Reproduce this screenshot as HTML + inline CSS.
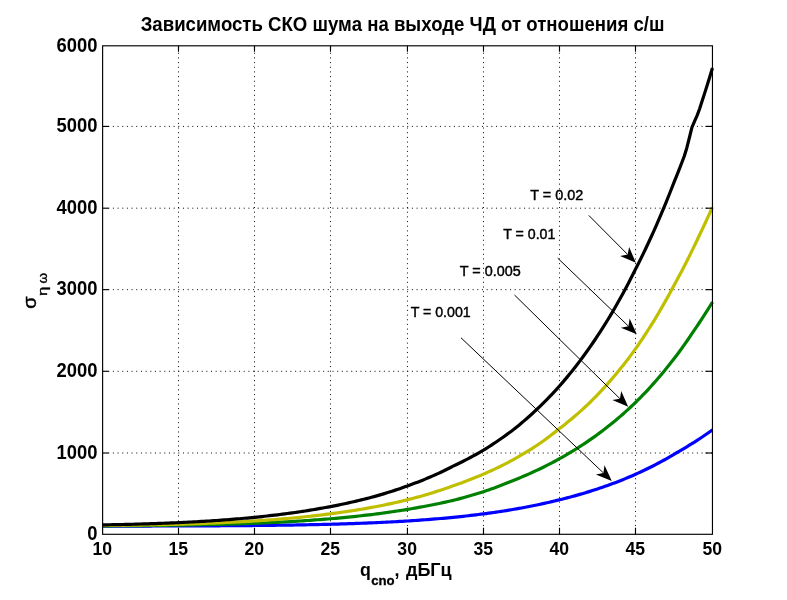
<!DOCTYPE html>
<html><head><meta charset="utf-8"><title>chart</title>
<style>
html,body{margin:0;padding:0;background:#fff;}
body{width:787px;height:600px;overflow:hidden;}
svg{display:block;will-change:transform;}
text{font-family:"Liberation Sans",sans-serif;fill:#000;}
</style></head><body>
<svg width="787" height="600" viewBox="0 0 787 600">
<rect x="0" y="0" width="787" height="600" fill="#ffffff"/>
<g stroke="#111" stroke-width="1" fill="none">
<line x1="178.49" y1="526.02" x2="178.49" y2="45.8" stroke-dasharray="1.05 3.626"/>
<line x1="254.49" y1="526.02" x2="254.49" y2="45.8" stroke-dasharray="1.05 3.626"/>
<line x1="330.49" y1="526.02" x2="330.49" y2="45.8" stroke-dasharray="1.05 3.626"/>
<line x1="407.44" y1="526.02" x2="407.44" y2="45.8" stroke-dasharray="1.05 3.626"/>
<line x1="483.49" y1="526.02" x2="483.49" y2="45.8" stroke-dasharray="1.05 3.626"/>
<line x1="559.49" y1="526.02" x2="559.49" y2="45.8" stroke-dasharray="1.05 3.626"/>
<line x1="635.49" y1="526.02" x2="635.49" y2="45.8" stroke-dasharray="1.05 3.626"/>
<line x1="112.88" y1="453.00" x2="712.46" y2="453.00" stroke-dasharray="1.05 3.622"/>
<line x1="112.88" y1="371.30" x2="712.46" y2="371.30" stroke-dasharray="1.05 3.622"/>
<line x1="112.88" y1="289.65" x2="712.46" y2="289.65" stroke-dasharray="1.05 3.622"/>
<line x1="112.88" y1="208.20" x2="712.46" y2="208.20" stroke-dasharray="1.05 3.622"/>
<line x1="112.88" y1="126.40" x2="712.46" y2="126.40" stroke-dasharray="1.05 3.622"/>
</g>
<g fill="none" stroke-width="3.2" stroke-linejoin="round" stroke-linecap="butt">
<polyline stroke="#0000ff" points="102.62,526.10 105.15,526.10 107.68,526.10 110.21,526.09 112.74,526.09 115.27,526.09 117.79,526.08 120.32,526.08 122.85,526.08 125.38,526.07 127.91,526.07 130.44,526.07 132.97,526.06 135.50,526.06 138.03,526.05 140.56,526.05 143.08,526.04 145.61,526.04 148.14,526.03 150.67,526.03 153.20,526.02 155.73,526.02 158.26,526.01 160.79,526.01 163.32,526.00 165.85,525.99 168.37,525.99 170.90,525.98 173.43,525.97 175.96,525.96 178.49,525.96 181.02,525.95 183.56,525.94 186.09,525.93 188.62,525.92 191.16,525.91 193.69,525.90 196.22,525.89 198.76,525.88 201.29,525.87 203.82,525.86 206.36,525.85 208.89,525.83 211.42,525.82 213.96,525.81 216.49,525.79 219.02,525.78 221.56,525.77 224.09,525.75 226.62,525.73 229.16,525.72 231.69,525.70 234.22,525.68 236.76,525.66 239.29,525.64 241.82,525.62 244.36,525.60 246.89,525.58 249.42,525.56 251.96,525.54 254.49,525.51 257.02,525.49 259.56,525.46 262.09,525.44 264.62,525.41 267.16,525.38 269.69,525.35 272.22,525.32 274.76,525.29 277.29,525.26 279.82,525.22 282.36,525.19 284.89,525.15 287.42,525.11 289.96,525.08 292.49,525.03 295.02,524.99 297.56,524.95 300.09,524.91 302.62,524.86 305.16,524.81 307.69,524.76 310.22,524.71 312.76,524.66 315.29,524.61 317.82,524.55 320.36,524.49 322.89,524.43 325.42,524.37 327.96,524.31 330.49,524.24 333.05,524.17 335.62,524.10 338.19,524.03 340.75,523.95 343.32,523.88 345.88,523.80 348.45,523.72 351.01,523.63 353.57,523.54 356.14,523.45 358.70,523.36 361.27,523.27 363.84,523.17 366.40,523.07 368.97,522.96 371.53,522.86 374.09,522.74 376.66,522.63 379.23,522.51 381.79,522.39 384.36,522.27 386.92,522.14 389.48,522.01 392.05,521.88 394.62,521.74 397.18,521.60 399.75,521.45 402.31,521.30 404.88,521.15 407.44,520.99 409.98,520.83 412.51,520.66 415.05,520.49 417.58,520.32 420.12,520.14 422.65,519.95 425.19,519.76 427.72,519.57 430.25,519.37 432.79,519.16 435.32,518.96 437.86,518.74 440.40,518.52 442.93,518.30 445.47,518.07 448.00,517.83 450.53,517.59 453.07,517.34 455.61,517.09 458.14,516.83 460.68,516.56 463.21,516.29 465.74,516.01 468.28,515.73 470.82,515.43 473.35,515.14 475.88,514.83 478.42,514.52 480.95,514.20 483.49,513.87 486.02,513.54 488.56,513.19 491.09,512.84 493.62,512.48 496.16,512.11 498.69,511.73 501.22,511.35 503.76,510.96 506.29,510.55 508.82,510.14 511.36,509.72 513.89,509.29 516.42,508.86 518.96,508.41 521.49,507.95 524.02,507.48 526.56,507.01 529.09,506.52 531.62,506.02 534.16,505.51 536.69,505.00 539.22,504.47 541.76,503.92 544.29,503.37 546.82,502.81 549.36,502.23 551.89,501.64 554.42,501.04 556.96,500.43 559.49,499.81 562.02,499.18 564.56,498.54 567.09,497.88 569.62,497.22 572.16,496.54 574.69,495.84 577.22,495.13 579.76,494.41 582.29,493.67 584.82,492.92 587.36,492.15 589.89,491.37 592.42,490.57 594.96,489.76 597.49,488.93 600.02,488.08 602.56,487.22 605.09,486.34 607.62,485.44 610.16,484.53 612.69,483.59 615.22,482.64 617.76,481.67 620.29,480.68 622.82,479.67 625.36,478.64 627.89,477.59 630.42,476.52 632.96,475.43 635.49,474.31 638.06,473.15 640.62,471.97 643.19,470.77 645.75,469.54 648.32,468.29 650.88,467.01 653.45,465.71 656.02,464.38 658.58,463.02 661.15,461.64 663.71,460.23 666.28,458.79 668.84,457.32 671.41,455.82 673.98,454.30 676.54,452.76 679.11,451.31 681.67,449.83 684.24,448.33 686.80,446.80 689.37,445.24 691.93,443.65 694.50,442.04 697.07,440.40 699.63,438.73 702.20,437.03 704.76,435.29 707.33,433.53 709.89,431.74 712.46,429.91"/>
<polyline stroke="#008000" points="102.62,525.84 105.15,525.82 107.68,525.81 110.21,525.80 112.74,525.78 115.27,525.77 117.79,525.75 120.32,525.73 122.85,525.72 125.38,525.70 127.91,525.68 130.44,525.66 132.97,525.65 135.50,525.63 138.03,525.61 140.56,525.58 143.08,525.56 145.61,525.54 148.14,525.52 150.67,525.49 153.20,525.46 155.73,525.44 158.26,525.41 160.79,525.38 163.32,525.35 165.85,525.32 168.37,525.29 170.90,525.26 173.43,525.22 175.96,525.19 178.49,525.15 181.02,525.12 183.56,525.08 186.09,525.04 188.62,525.00 191.16,524.95 193.69,524.91 196.22,524.86 198.76,524.82 201.29,524.77 203.82,524.72 206.36,524.66 208.89,524.61 211.42,524.55 213.96,524.49 216.49,524.43 219.02,524.37 221.56,524.31 224.09,524.24 226.62,524.18 229.16,524.11 231.69,524.03 234.22,523.96 236.76,523.88 239.29,523.80 241.82,523.72 244.36,523.64 246.89,523.55 249.42,523.46 251.96,523.37 254.49,523.27 257.02,523.17 259.56,523.07 262.09,522.97 264.62,522.86 267.16,522.75 269.69,522.64 272.22,522.52 274.76,522.40 277.29,522.28 279.82,522.15 282.36,522.02 284.89,521.89 287.42,521.75 289.96,521.61 292.49,521.46 295.02,521.31 297.56,521.16 300.09,521.00 302.62,520.84 305.16,520.67 307.69,520.50 310.22,520.33 312.76,520.15 315.29,519.96 317.82,519.77 320.36,519.58 322.89,519.38 325.42,519.18 327.96,518.97 330.49,518.75 333.05,518.53 335.62,518.31 338.19,518.08 340.75,517.84 343.32,517.60 345.88,517.36 348.45,517.10 351.01,516.84 353.57,516.58 356.14,516.31 358.70,516.03 361.27,515.74 363.84,515.45 366.40,515.15 368.97,514.85 371.53,514.54 374.09,514.22 376.66,513.89 379.23,513.56 381.79,513.22 384.36,512.87 386.92,512.52 389.48,512.15 392.05,511.78 394.62,511.40 397.18,511.01 399.75,510.62 402.31,510.21 404.88,509.80 407.44,509.37 409.98,508.96 412.51,508.53 415.05,508.09 417.58,507.65 420.12,507.19 422.65,506.73 425.19,506.25 427.72,505.77 430.25,505.28 432.79,504.78 435.32,504.26 437.86,503.74 440.40,503.21 442.93,502.66 445.47,502.11 448.00,501.54 450.53,500.97 453.07,500.38 455.61,499.73 458.14,499.08 460.68,498.41 463.21,497.72 465.74,497.02 468.28,496.31 470.82,495.58 473.35,494.83 475.88,494.07 478.42,493.30 480.95,492.51 483.49,491.70 486.02,490.85 488.56,489.98 491.09,489.09 493.62,488.18 496.16,487.26 498.69,486.31 501.22,485.35 503.76,484.36 506.29,483.36 508.82,482.33 511.36,481.28 513.89,480.24 516.42,479.23 518.96,478.19 521.49,477.14 524.02,476.07 526.56,474.98 529.09,473.87 531.62,472.73 534.16,471.57 536.69,470.39 539.22,469.19 541.76,467.96 544.29,466.71 546.82,465.44 549.36,464.14 551.89,462.82 554.42,461.47 556.96,460.09 559.49,458.69 562.02,457.28 564.56,455.85 567.09,454.40 569.62,452.91 572.16,451.39 574.69,449.84 577.22,448.26 579.76,446.65 582.29,445.02 584.82,443.35 587.36,441.64 589.89,439.91 592.42,438.15 594.96,436.35 597.49,434.51 600.02,432.65 602.56,430.74 605.09,428.80 607.62,426.83 610.16,424.82 612.69,422.77 615.22,420.68 617.76,418.55 620.29,416.38 622.82,414.17 625.36,411.92 627.89,409.63 630.42,407.29 632.96,404.91 635.49,402.49 638.06,399.95 640.62,397.36 643.19,394.72 645.75,392.03 648.32,389.29 650.88,386.49 653.45,383.64 656.02,380.74 658.58,377.78 661.15,374.76 663.71,371.69 666.28,368.55 668.84,365.36 671.41,362.11 673.98,358.79 676.54,355.41 679.11,351.96 681.67,348.44 684.24,344.86 686.80,341.21 689.37,337.49 691.93,333.69 694.50,329.83 697.07,326.08 699.63,322.26 702.20,318.37 704.76,314.40 707.33,310.37 709.89,306.26 712.46,302.08"/>
<polyline stroke="#bfbf00" points="102.62,525.51 105.15,525.49 107.68,525.46 110.21,525.44 112.74,525.41 115.27,525.38 117.79,525.35 120.32,525.32 122.85,525.29 125.38,525.26 127.91,525.22 130.44,525.19 132.97,525.15 135.50,525.11 138.03,525.07 140.56,525.03 143.08,524.99 145.61,524.95 148.14,524.90 150.67,524.86 153.20,524.81 155.73,524.76 158.26,524.71 160.79,524.66 163.32,524.60 165.85,524.55 168.37,524.49 170.90,524.43 173.43,524.36 175.96,524.30 178.49,524.23 181.02,524.17 183.56,524.10 186.09,524.02 188.62,523.95 191.16,523.87 193.69,523.79 196.22,523.71 198.76,523.62 201.29,523.53 203.82,523.44 206.36,523.35 208.89,523.26 211.42,523.16 213.96,523.05 216.49,522.95 219.02,522.84 221.56,522.73 224.09,522.62 226.62,522.50 229.16,522.38 231.69,522.25 234.22,522.13 236.76,521.99 239.29,521.86 241.82,521.72 244.36,521.58 246.89,521.43 249.42,521.28 251.96,521.12 254.49,520.97 257.02,520.80 259.56,520.63 262.09,520.46 264.62,520.29 267.16,520.11 269.69,519.92 272.22,519.73 274.76,519.53 277.29,519.33 279.82,519.13 282.36,518.92 284.89,518.70 287.42,518.48 289.96,518.25 292.49,518.02 295.02,517.78 297.56,517.54 300.09,517.29 302.62,517.03 305.16,516.77 307.69,516.50 310.22,516.23 312.76,515.95 315.29,515.66 317.82,515.37 320.36,515.07 322.89,514.76 325.42,514.45 327.96,514.13 330.49,513.80 333.05,513.46 335.62,513.12 338.19,512.77 340.75,512.41 343.32,512.04 345.88,511.66 348.45,511.28 351.01,510.89 353.57,510.49 356.14,510.08 358.70,509.66 361.27,509.23 363.84,508.80 366.40,508.35 368.97,507.90 371.53,507.43 374.09,506.96 376.66,506.47 379.23,505.98 381.79,505.48 384.36,504.96 386.92,504.43 389.48,503.90 392.05,503.35 394.62,502.79 397.18,502.21 399.75,501.63 402.31,501.04 404.88,500.43 407.44,499.81 409.98,499.16 412.51,498.50 415.05,497.82 417.58,497.13 420.12,496.43 422.65,495.71 425.19,494.98 427.72,494.23 430.25,493.47 432.79,492.69 435.32,491.89 437.86,491.08 440.40,490.25 442.93,489.41 445.47,488.54 448.00,487.66 450.53,486.76 453.07,485.85 455.61,484.97 458.14,484.08 460.68,483.16 463.21,482.23 465.74,481.29 468.28,480.32 470.82,479.34 473.35,478.34 475.88,477.32 478.42,476.28 480.95,475.22 483.49,474.14 486.02,473.03 488.56,471.91 491.09,470.76 493.62,469.59 496.16,468.40 498.69,467.19 501.22,465.95 503.76,464.69 506.29,463.40 508.82,462.07 511.36,460.70 513.89,459.31 516.42,457.90 518.96,456.45 521.49,454.98 524.02,453.48 526.56,451.94 529.09,450.38 531.62,448.78 534.16,447.15 536.69,445.49 539.22,443.76 541.76,441.99 544.29,440.19 546.82,438.35 549.36,436.47 551.89,434.56 554.42,432.61 556.96,430.63 559.49,428.60 562.02,426.64 564.56,424.64 567.09,422.61 569.62,420.54 572.16,418.43 574.69,416.28 577.22,414.09 579.76,411.87 582.29,409.59 584.82,407.28 587.36,404.93 589.89,402.50 592.42,399.98 594.96,397.41 597.49,394.79 600.02,392.13 602.56,389.41 605.09,386.64 607.62,383.81 610.16,380.93 612.69,378.00 615.22,375.01 617.76,371.96 620.29,368.86 622.82,365.70 625.36,362.47 627.89,359.19 630.42,355.84 632.96,352.42 635.49,348.91 638.06,345.22 640.62,341.47 643.19,337.64 645.75,333.74 648.32,329.75 650.88,325.69 653.45,321.55 656.02,317.32 658.58,313.02 661.15,308.63 663.71,304.16 666.28,299.60 668.84,294.95 671.41,290.21 673.98,285.39 676.54,280.73 679.11,275.99 681.67,271.15 684.24,266.23 686.80,261.21 689.37,256.11 691.93,250.90 694.50,245.60 697.07,240.20 699.63,234.72 702.20,229.38 704.76,223.95 707.33,218.43 709.89,212.80 712.46,207.08"/>
<polyline stroke="#000000" points="102.62,524.90 105.15,524.86 107.68,524.81 110.21,524.76 112.74,524.71 115.27,524.66 117.79,524.60 120.32,524.55 122.85,524.49 125.38,524.43 127.91,524.37 130.44,524.30 132.97,524.24 135.50,524.17 138.03,524.10 140.56,524.02 143.08,523.95 145.61,523.87 148.14,523.79 150.67,523.71 153.20,523.63 155.73,523.54 158.26,523.45 160.79,523.36 163.32,523.26 165.85,523.16 168.37,523.06 170.90,522.96 173.43,522.85 175.96,522.74 178.49,522.62 181.02,522.51 183.56,522.39 186.09,522.26 188.62,522.14 191.16,522.00 193.69,521.87 196.22,521.73 198.76,521.59 201.29,521.44 203.82,521.29 206.36,521.14 208.89,520.98 211.42,520.82 213.96,520.65 216.49,520.48 219.02,520.30 221.56,520.12 224.09,519.94 226.62,519.75 229.16,519.56 231.69,519.36 234.22,519.15 236.76,518.94 239.29,518.73 241.82,518.51 244.36,518.28 246.89,518.05 249.42,517.81 251.96,517.57 254.49,517.32 257.02,517.07 259.56,516.81 262.09,516.54 264.62,516.27 267.16,515.99 269.69,515.71 272.22,515.42 274.76,515.12 277.29,514.81 279.82,514.50 282.36,514.18 284.89,513.85 287.42,513.52 289.96,513.18 292.49,512.83 295.02,512.47 297.56,512.11 300.09,511.73 302.62,511.35 305.16,510.96 307.69,510.57 310.22,510.16 312.76,509.75 315.29,509.32 317.82,508.89 320.36,508.45 322.89,507.99 325.42,507.53 327.96,507.06 330.49,506.58 333.05,506.08 335.62,505.58 338.19,505.06 340.75,504.53 343.32,504.00 345.88,503.45 348.45,502.88 351.01,502.31 353.57,501.73 356.14,501.13 358.70,500.52 361.27,499.90 363.84,499.26 366.40,498.61 368.97,497.95 371.53,497.28 374.09,496.59 376.66,495.89 379.23,495.15 381.79,494.39 384.36,493.62 386.92,492.84 389.48,492.03 392.05,491.21 394.62,490.38 397.18,489.52 399.75,488.65 402.31,487.76 404.88,486.85 407.44,485.93 409.98,485.01 412.51,484.08 415.05,483.12 417.58,482.15 420.12,481.16 422.65,480.15 425.19,479.11 427.72,478.06 430.25,476.99 432.79,475.89 435.32,474.77 437.86,473.64 440.40,472.45 442.93,471.24 445.47,470.01 448.00,468.76 450.53,467.47 453.07,466.17 455.61,464.96 458.14,463.73 460.68,462.48 463.21,461.21 465.74,459.91 468.28,458.59 470.82,457.25 473.35,455.88 475.88,454.49 478.42,453.07 480.95,451.63 483.49,450.15 486.02,448.58 488.56,446.98 491.09,445.35 493.62,443.69 496.16,442.00 498.69,440.28 501.22,438.52 503.76,436.73 506.29,434.91 508.82,433.05 511.36,431.16 513.89,429.23 516.42,427.21 518.96,425.14 521.49,423.04 524.02,420.89 526.56,418.70 529.09,416.47 531.62,414.20 534.16,411.88 536.69,409.51 539.22,407.10 541.76,404.65 544.29,402.15 546.82,399.59 549.36,396.99 551.89,394.34 554.42,391.64 556.96,388.86 559.49,386.01 562.02,383.11 564.56,380.14 567.09,377.12 569.62,374.04 572.16,370.90 574.69,367.70 577.22,364.43 579.76,361.11 582.29,357.71 584.82,354.25 587.36,350.72 589.89,347.13 592.42,343.48 594.96,339.75 597.49,335.95 600.02,332.08 602.56,328.14 605.09,324.11 607.62,320.01 610.16,315.83 612.69,311.57 615.22,307.22 617.76,302.79 620.29,298.27 622.82,293.66 625.36,288.96 627.89,284.19 630.42,279.32 632.96,274.35 635.49,269.29 638.06,264.24 640.62,259.09 643.19,253.84 645.75,248.50 648.32,243.05 650.88,237.50 653.45,231.84 656.02,226.07 658.58,220.20 661.15,214.21 663.71,208.10 666.28,201.86 668.84,195.49 671.41,189.00 673.98,182.39 676.54,176.04 679.11,169.58 681.67,162.99 684.24,156.30 686.80,147.91 689.37,137.74 691.93,127.34 694.50,121.30 697.07,115.61 699.63,108.71 702.20,100.87 704.76,92.88 707.33,84.74 709.89,76.45 712.46,68.00"/>
</g>
<g stroke="#000" stroke-width="1.15" fill="none">
<rect x="102.62" y="45.8" width="609.84" height="488.50"/>
<line x1="178.49" y1="534.3" x2="178.49" y2="527.6999999999999"/><line x1="178.49" y1="45.8" x2="178.49" y2="51.699999999999996"/>
<line x1="254.49" y1="534.3" x2="254.49" y2="527.6999999999999"/><line x1="254.49" y1="45.8" x2="254.49" y2="51.699999999999996"/>
<line x1="330.49" y1="534.3" x2="330.49" y2="527.6999999999999"/><line x1="330.49" y1="45.8" x2="330.49" y2="51.699999999999996"/>
<line x1="407.44" y1="534.3" x2="407.44" y2="527.6999999999999"/><line x1="407.44" y1="45.8" x2="407.44" y2="51.699999999999996"/>
<line x1="483.49" y1="534.3" x2="483.49" y2="527.6999999999999"/><line x1="483.49" y1="45.8" x2="483.49" y2="51.699999999999996"/>
<line x1="559.49" y1="534.3" x2="559.49" y2="527.6999999999999"/><line x1="559.49" y1="45.8" x2="559.49" y2="51.699999999999996"/>
<line x1="635.49" y1="534.3" x2="635.49" y2="527.6999999999999"/><line x1="635.49" y1="45.8" x2="635.49" y2="51.699999999999996"/>
<line x1="102.62" y1="453.00" x2="109.22" y2="453.00"/><line x1="712.46" y1="453.00" x2="705.46" y2="453.00"/>
<line x1="102.62" y1="371.30" x2="109.22" y2="371.30"/><line x1="712.46" y1="371.30" x2="705.46" y2="371.30"/>
<line x1="102.62" y1="289.65" x2="109.22" y2="289.65"/><line x1="712.46" y1="289.65" x2="705.46" y2="289.65"/>
<line x1="102.62" y1="208.20" x2="109.22" y2="208.20"/><line x1="712.46" y1="208.20" x2="705.46" y2="208.20"/>
<line x1="102.62" y1="126.40" x2="109.22" y2="126.40"/><line x1="712.46" y1="126.40" x2="705.46" y2="126.40"/>
</g>
<text transform="translate(102.32,555.40) scale(0.9167,1)" font-size="19.2" font-weight="bold" text-anchor="middle">10</text>
<text transform="translate(178.19,555.40) scale(0.9167,1)" font-size="19.2" font-weight="bold" text-anchor="middle">15</text>
<text transform="translate(254.19,555.40) scale(0.9167,1)" font-size="19.2" font-weight="bold" text-anchor="middle">20</text>
<text transform="translate(330.19,555.40) scale(0.9167,1)" font-size="19.2" font-weight="bold" text-anchor="middle">25</text>
<text transform="translate(407.14,555.40) scale(0.9167,1)" font-size="19.2" font-weight="bold" text-anchor="middle">30</text>
<text transform="translate(483.19,555.40) scale(0.9167,1)" font-size="19.2" font-weight="bold" text-anchor="middle">35</text>
<text transform="translate(559.19,555.40) scale(0.9167,1)" font-size="19.2" font-weight="bold" text-anchor="middle">40</text>
<text transform="translate(635.19,555.40) scale(0.9167,1)" font-size="19.2" font-weight="bold" text-anchor="middle">45</text>
<text transform="translate(712.16,555.40) scale(0.9167,1)" font-size="19.2" font-weight="bold" text-anchor="middle">50</text>
<text transform="translate(97.40,540.10) scale(0.9388,1)" font-size="19.6" font-weight="bold" text-anchor="end">0</text>
<text transform="translate(97.40,458.80) scale(0.9388,1)" font-size="19.6" font-weight="bold" text-anchor="end">1000</text>
<text transform="translate(97.40,377.10) scale(0.9388,1)" font-size="19.6" font-weight="bold" text-anchor="end">2000</text>
<text transform="translate(97.40,295.45) scale(0.9388,1)" font-size="19.6" font-weight="bold" text-anchor="end">3000</text>
<text transform="translate(97.40,214.00) scale(0.9388,1)" font-size="19.6" font-weight="bold" text-anchor="end">4000</text>
<text transform="translate(97.40,132.20) scale(0.9388,1)" font-size="19.6" font-weight="bold" text-anchor="end">5000</text>
<text transform="translate(97.40,51.60) scale(0.9388,1)" font-size="19.6" font-weight="bold" text-anchor="end">6000</text>
<text x="140.7" y="31.2" font-size="19.6" font-weight="bold" textLength="523.8" lengthAdjust="spacingAndGlyphs">Зависимость СКО шума на выходе ЧД от отношения с/ш</text>
<text transform="translate(360.10,575.60) scale(0.9944,1)" font-size="17.9" font-weight="bold" text-anchor="start">q</text>
<text x="371.2" y="584.5" font-weight="bold" font-size="13.5" stroke="#000" stroke-width="0.3" textLength="23.5" lengthAdjust="spacingAndGlyphs">cno</text>
<text transform="translate(394.50,576.20) scale(1.0000,1)" font-size="18.0" font-weight="bold" text-anchor="start">,</text>
<text transform="translate(406.00,576.20) scale(1.0000,1)" font-size="18.0" font-weight="bold" text-anchor="start">дБГц</text>
<g transform="translate(36.1,308.7) rotate(-90) scale(1.06,1)"><text x="0" y="0" font-size="18.7" stroke="#000" stroke-width="0.45">σ</text></g>
<g transform="translate(47.0,295.9) rotate(-90) scale(1.25,1)"><text x="0" y="0" font-size="13.5" stroke="#000" stroke-width="0.35">η</text></g>
<g transform="translate(47.0,283.4) rotate(-90) scale(1.0,1)"><text x="0" y="0" font-size="13.5" stroke="#000" stroke-width="0.35">ω</text></g>
<text x="530.2" y="200.0" font-size="15.3" stroke="#000" stroke-width="0.45" textLength="53.0" lengthAdjust="spacingAndGlyphs">T = 0.02</text>
<text x="503.2" y="239.0" font-size="15.3" stroke="#000" stroke-width="0.45" textLength="52.2" lengthAdjust="spacingAndGlyphs">T = 0.01</text>
<text x="459.8" y="276.0" font-size="15.3" stroke="#000" stroke-width="0.45" textLength="61.0" lengthAdjust="spacingAndGlyphs">T = 0.005</text>
<text x="410.65" y="316.8" font-size="15.3" stroke="#000" stroke-width="0.45" textLength="60.1" lengthAdjust="spacingAndGlyphs">T = 0.001</text>
<line x1="588.8" y1="215.4" x2="627.72" y2="254.57" stroke="#000" stroke-width="1.0"/>
<polygon fill="#000" points="635.90,262.80 620.15,255.89 627.72,254.57 629.09,247.01"/>
<line x1="557.7" y1="258.1" x2="628.44" y2="326.16" stroke="#000" stroke-width="1.0"/>
<polygon fill="#000" points="636.80,334.20 620.90,327.65 628.44,326.16 629.64,318.57"/>
<line x1="514.5" y1="295" x2="619.93" y2="398.67" stroke="#000" stroke-width="1.0"/>
<polygon fill="#000" points="628.20,406.80 612.37,400.07 619.93,398.67 621.21,391.09"/>
<line x1="461" y1="337.8" x2="603.39" y2="472.92" stroke="#000" stroke-width="1.0"/>
<polygon fill="#000" points="611.80,480.90 595.86,474.46 603.39,472.92 604.53,465.32"/>
</svg>
</body></html>
